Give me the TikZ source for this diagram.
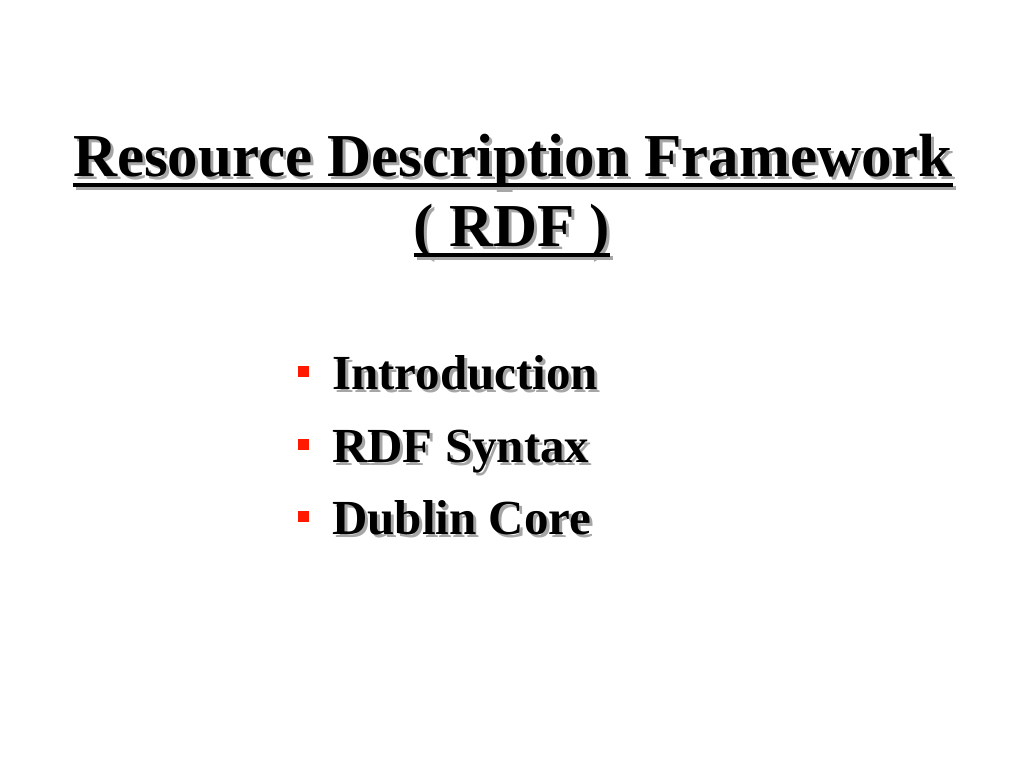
\documentclass[tikz,border=0pt]{standalone}
\usepackage{fontspec}
\setmainfont{Liberation Serif}
\begin{document}
\begin{tikzpicture}[x=1pt,y=1pt,
  ttl/.style={inner sep=0pt,font=\bfseries\fontsize{61}{66}\selectfont},
  itm/.style={inner sep=0pt,anchor=base west,font=\bfseries\fontsize{49}{54}\selectfont},
  shd/.style={text=black!35},
  bul/.style={fill=red!80!orange,minimum size=11pt,inner sep=0pt}]
\useasboundingbox (0,0) rectangle (1024,768);
% title line 1
\node[ttl,shd,anchor=base] (t1s) at (516,588) {Resource Description Framework};
\node[ttl,anchor=base] (t1) at (513,591) {Resource Description Framework};
\draw[line width=4pt,black!35] ([yshift=-8pt]t1s.base west) -- ([yshift=-8pt]t1s.base east);
\draw[line width=4pt] ([yshift=-8pt]t1.base west) -- ([yshift=-8pt]t1.base east);
% title line 2
\node[ttl,shd,anchor=base] (t2s) at (515,518) {( RDF )};
\node[ttl,anchor=base] (t2) at (512,521) {( RDF )};
\draw[line width=4pt,black!35] ([yshift=-8pt]t2s.base west) -- ([yshift=-8pt]t2s.base east);
\draw[line width=4pt] ([yshift=-8pt]t2.base west) -- ([yshift=-8pt]t2.base east);
% bullets
\foreach \n/\y/\t in {a/378/Introduction,b/305/RDF Syntax,c/233/Dublin Core}{
  \node[bul] (b\n) at (303,\y+18) {};
  \node[itm,shd] (i\n s) at (335,\y-3) {\t};
  \node[itm] (i\n) at (332,\y) {\t};
}
\end{tikzpicture}
\end{document}
